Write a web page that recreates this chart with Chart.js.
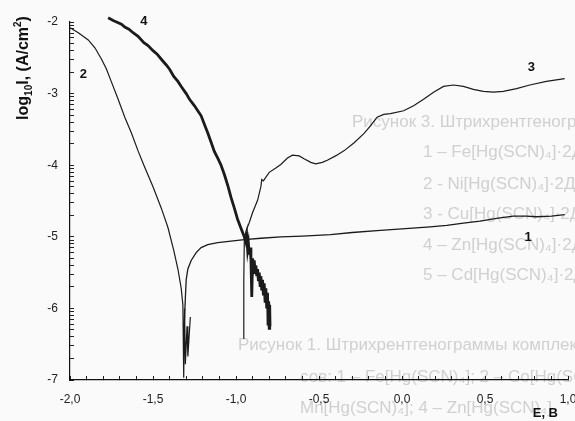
<!DOCTYPE html>
<html>
<head>
<meta charset="utf-8">
<script src="https://cdn.jsdelivr.net/npm/chart.js@4.4.1/dist/chart.umd.min.js"></script>
<style>
  html, body { margin: 0; padding: 0; background: #fafafa; }
  canvas { display: block; }
</style>
</head>
<body>
<canvas id="tafel" width="575" height="421"></canvas>
<script>
// E, B  vs  log10 I, (A/cm2)
const xMajorTicks = [-2.0, -1.5, -1.0, -0.5, 0.0, 0.5, 1.0];
const yMajorTicks = [-7, -6, -5, -4, -3, -2];

const curve1 = [[-1.313,-6.3],[-1.305,-5.85],[-1.30,-5.60],[-1.29,-5.45],[-1.27,-5.33],[-1.24,-5.22],[-1.21,-5.15],
  [-1.17,-5.11],[-1.11,-5.08],[-1.03,-5.06],[-0.95,-5.04],[-0.85,-5.02],[-0.73,-5.00],[-0.60,-4.99],[-0.43,-4.97],
  [-0.30,-4.94],[-0.13,-4.91],[0.0,-4.89],[0.17,-4.86],[0.27,-4.84],[0.37,-4.81],[0.47,-4.78],[0.58,-4.74],
  [0.67,-4.71],[0.75,-4.71],[0.81,-4.72],[0.90,-4.71],[0.98,-4.69]];

const curve2 = [[-2.0,-2.08],[-1.95,-2.15],[-1.89,-2.25],[-1.85,-2.36],[-1.81,-2.52],[-1.78,-2.66],[-1.75,-2.84],
  [-1.71,-3.08],[-1.67,-3.33],[-1.63,-3.55],[-1.59,-3.80],[-1.555,-4.00],[-1.50,-4.30],[-1.45,-4.60],[-1.41,-4.87],
  [-1.375,-5.19],[-1.35,-5.45],[-1.33,-5.72],[-1.32,-5.95],[-1.315,-6.97],[-1.31,-6.0],[-1.305,-6.78],
  [-1.295,-6.25],[-1.29,-6.67],[-1.275,-6.12]];

const curve3 = [[-0.955,-6.42],[-0.953,-5.6],[-0.95,-5.05],[-0.94,-4.92],[-0.92,-4.80],[-0.90,-4.66],[-0.87,-4.49],
  [-0.85,-4.30],[-0.845,-4.20],[-0.835,-4.22],[-0.80,-4.10],[-0.76,-4.04],[-0.73,-3.99],[-0.69,-3.90],[-0.66,-3.86],
  [-0.62,-3.87],[-0.59,-3.91],[-0.55,-3.96],[-0.52,-3.98],[-0.48,-3.96],[-0.45,-3.93],[-0.40,-3.87],[-0.35,-3.80],
  [-0.29,-3.69],[-0.23,-3.56],[-0.19,-3.45],[-0.15,-3.33],[-0.11,-3.29],[-0.07,-3.28],[0.01,-3.24],[0.07,-3.17],
  [0.13,-3.08],[0.19,-2.98],[0.25,-2.90],[0.31,-2.88],[0.37,-2.90],[0.43,-2.94],[0.49,-2.97],[0.55,-2.98],
  [0.61,-2.97],[0.69,-2.93],[0.77,-2.88],[0.87,-2.83],[0.98,-2.79]];

const curve4 = [[-1.77,-1.94],[-1.74,-1.98],[-1.72,-2.00],[-1.69,-2.03],[-1.67,-2.07],[-1.645,-2.10],[-1.62,-2.15],
  [-1.59,-2.20],[-1.555,-2.29],[-1.53,-2.33],[-1.50,-2.40],[-1.475,-2.45],[-1.45,-2.52],[-1.42,-2.60],[-1.40,-2.66],
  [-1.375,-2.76],[-1.35,-2.83],[-1.33,-2.90],[-1.30,-3.00],[-1.28,-3.08],[-1.25,-3.17],[-1.21,-3.31],[-1.19,-3.43],
  [-1.17,-3.55],[-1.15,-3.68],[-1.13,-3.81],[-1.11,-3.90],[-1.09,-4.00],[-1.07,-4.13],[-1.05,-4.28],[-1.03,-4.45],
  [-1.01,-4.60],[-0.99,-4.76],[-0.97,-4.88],[-0.95,-5.00],[-0.94,-5.08],[-0.935,-5.0],[-0.93,-5.18],[-0.925,-5.1],
  [-0.92,-5.25],[-0.915,-5.15],[-0.91,-5.32],[-0.905,-5.84],[-0.90,-5.3],[-0.895,-5.42],[-0.89,-5.33],[-0.885,-5.5],
  [-0.88,-5.4],[-0.875,-5.55],[-0.87,-5.45],[-0.865,-5.62],[-0.86,-5.5],[-0.855,-5.68],[-0.85,-5.55],[-0.845,-5.75],
  [-0.84,-5.6],[-0.835,-5.82],[-0.83,-5.65],[-0.825,-5.9],[-0.82,-5.72],[-0.815,-6.0],[-0.81,-5.78],[-0.807,-6.22],
  [-0.803,-5.9],[-0.80,-6.28],[-0.797,-5.95],[-0.795,-6.25]];

// curve numbers, placed in data coordinates
const curveNames = [
  { text: '1', x: 0.76, y: -5.01 },
  { text: '2', x: -1.92, y: -2.73 },
  { text: '3', x: 0.78, y: -2.64 },
  { text: '4', x: -1.555, y: -1.99 }
];

const toPts = arr => arr.map(p => ({ x: p[0], y: p[1] }));

// minor ticks: 0.1 V on x, log-style (2..9) inside every decade on y
const xTicks = [];
for (let i = -20; i <= 10; i++) xTicks.push(i / 10);
const yTicks = [];
for (let d = -7; d < -2; d++) {
  yTicks.push(d);
  for (let k = 2; k <= 9; k++) yTicks.push(d + Math.log10(k));
}
yTicks.push(-2);

const fmtX = v => {
  const r = Math.round(v * 10) / 10;
  if (!xMajorTicks.some(t => Math.abs(t - r) < 1e-9)) return '';
  return (r === 0 ? 0 : r).toFixed(1).replace('.', ',');
};

// faint print-through from the other side of the scanned page
const ghostText = {
  id: 'ghostText',
  beforeDraw(chart) {
    const ctx = chart.ctx;
    ctx.save();
    ctx.fillStyle = '#d0d0d0';
    ctx.textBaseline = 'middle';
    ctx.font = '17px "Liberation Sans", Arial, sans-serif';
    ctx.fillText('Рисунок 3. Штрихрентгенограммы комплексов:', 352, 122);
    ctx.fillText('1 – Fe[Hg(SCN)₄]·2ДМФА;', 423, 152);
    ctx.fillText('2 - Ni[Hg(SCN)₄]·2ДМФА;', 423, 184);
    ctx.fillText('3 - Cu[Hg(SCN)₄]·2ДМФА;', 423, 214);
    ctx.fillText('4 – Zn[Hg(SCN)₄]·2ДМФА;', 423, 245);
    ctx.fillText('5 – Cd[Hg(SCN)₄]·2ДМФА', 423, 275);
    ctx.fillText('Рисунок 1. Штрихрентгенограммы комплек-', 238, 345);
    ctx.fillText('сов: 1 – Fe[Hg(SCN)₄]; 2 – Co[Hg(SCN)₄]; 3 –', 300, 377);
    ctx.fillText('Mn[Hg(SCN)₄]; 4 – Zn[Hg(SCN)₄]', 300, 408);
    ctx.restore();
  }
};

const labelsAndTitles = {
  id: 'labelsAndTitles',
  afterDraw(chart) {
    const ctx = chart.ctx;
    const xs = chart.scales.x, ys = chart.scales.y;
    ctx.save();
    ctx.fillStyle = '#111';
    ctx.textAlign = 'center';
    ctx.textBaseline = 'middle';
    ctx.font = 'bold 13px "Liberation Sans", Arial, sans-serif';
    curveNames.forEach(n => ctx.fillText(n.text, xs.getPixelForValue(n.x), ys.getPixelForValue(n.y)));

    // x axis title
    ctx.textAlign = 'right';
    ctx.fillText('E, B', 558, 413);

    // y axis title, rotated, with sub/superscript
    const big = 'bold 16px "Liberation Sans", Arial, sans-serif';
    const small = 'bold 10px "Liberation Sans", Arial, sans-serif';
    const parts = [['log', big, 0], ['10', small, 4], ['I, (A/cm', big, 0], ['2', small, -7], [')', big, 0]];
    let total = 0;
    parts.forEach(p => { ctx.font = p[1]; total += ctx.measureText(p[0]).width; });
    ctx.translate(22, 68 + total / 2);
    ctx.rotate(-Math.PI / 2);
    ctx.textAlign = 'left';
    ctx.textBaseline = 'alphabetic';
    let cx = 0;
    parts.forEach(p => {
      ctx.font = p[1];
      ctx.fillText(p[0], cx, 6 + p[2]);
      cx += ctx.measureText(p[0]).width;
    });
    ctx.restore();
  }
};

const line = (data, width) => ({
  data: toPts(data),
  showLine: true,
  borderColor: '#1b1b1b',
  borderWidth: width,
  pointRadius: 0,
  tension: 0,
  clip: false
});

new Chart(document.getElementById('tafel'), {
  type: 'scatter',
  data: {
    datasets: [
      line(curve1, 1.3),
      line(curve2, 1.2),
      line(curve3, 1.2),
      line(curve4, 2.8)
    ]
  },
  options: {
    responsive: false,
    animation: false,
    devicePixelRatio: 1,
    layout: { padding: { top: 22, right: 7, bottom: 0, left: 0 } },
    plugins: { legend: { display: false }, tooltip: { enabled: false } },
    scales: {
      x: {
        type: 'linear',
        min: -2,
        max: 1,
        afterBuildTicks: s => { s.ticks = xTicks.map(v => ({ value: v })); },
        afterFit: s => { s.height = 41; s.paddingLeft = 0; s.paddingRight = 0; },
        grid: { drawOnChartArea: false, tickLength: -4, color: '#222' },
        border: { color: '#111', width: 1.2 },
        ticks: {
          autoSkip: false, maxRotation: 0, padding: 16,
          color: '#222', font: { family: '"Liberation Sans", Arial, sans-serif', size: 12 },
          callback: v => fmtX(v)
        }
      },
      y: {
        type: 'linear',
        min: -7,
        max: -2,
        afterBuildTicks: s => { s.ticks = yTicks.map(v => ({ value: v })); },
        afterFit: s => { s.width = 70; s.paddingTop = 0; s.paddingBottom = 0; },
        grid: { drawOnChartArea: false, tickLength: -4, color: '#222' },
        border: { color: '#111', width: 1.2 },
        ticks: {
          autoSkip: false, padding: 16,
          color: '#222', font: { family: '"Liberation Sans", Arial, sans-serif', size: 12 },
          callback: v => (yMajorTicks.includes(v) ? String(v) : '')
        }
      }
    }
  },
  plugins: [ghostText, labelsAndTitles]
});
</script>
</body>
</html>
